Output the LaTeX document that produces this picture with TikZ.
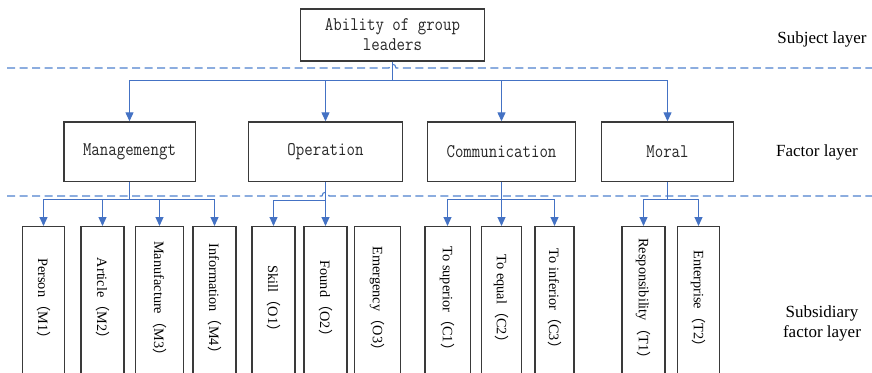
\documentclass[tikz,border=0pt]{standalone}
\usepackage{fontspec}
\setmainfont{Liberation Serif}
\newfontfamily\boxfont[FakeStretch=0.85]{Latin Modern Mono}
\newfontfamily\cjk{Noto Sans CJK SC}
\usetikzlibrary{arrows.meta}
\definecolor{linkblue}{HTML}{4472C4}
\definecolor{dashblue}{HTML}{4F81CE}
\definecolor{frame}{HTML}{3A3A3A}
% full-width parentheses around the item codes
\newcommand{\lpar}{{\cjk （}}
\newcommand{\rpar}{{\cjk ）}}

\begin{document}
\begin{tikzpicture}[x=1pt,y=-1pt,
  box/.style={draw=frame,line width=1.3pt,rectangle,inner sep=0pt,
    font=\boxfont\fontsize{19.3}{20}\selectfont,text=black!85},
  subbox/.style={draw=frame,line width=1.3pt,rectangle,inner sep=0pt,
    minimum height=200pt,anchor=north},
  sublabel/.style={rotate=-90,font=\fontsize{14.3}{16}\selectfont,inner sep=0pt},
  layerlabel/.style={font=\fontsize{17}{19.5}\selectfont,align=center,inner sep=0pt},
  link/.style={draw=linkblue,line width=1.2pt,-{Triangle[width=8pt,length=9pt]}},
  divider/.style={draw=dashblue,line width=1.1pt,dash pattern=on 8pt off 4.5pt}
]
\useasboundingbox (0,0) rectangle (872,372);
\clip (0,0) rectangle (872,372);

% layer dividers, each hopping over the crossing stem
\draw[divider] (7,68) -- (389,68) .. controls (389,63) and (396,63) .. (396,68) -- (872,68);
\draw[divider] (7,196) -- (322,196) .. controls (322,191) and (329,191) .. (329,196) -- (872,196);

% subject
\node[box,minimum width=184pt,minimum height=52pt,align=center] (top) at (392.5,35) {Ability of group\\leaders};

% factors
\node[box,minimum width=131.3pt,minimum height=59.3pt] (mgt) at (129.5,151.6) {Managemengt};
\node[box,minimum width=153.4pt,minimum height=59.3pt] (opr) at (325.5,151.6) {Operation};
\node[box,minimum width=148.6pt,minimum height=59.3pt] (com) at (501.5,151.6) {Communication};
\node[box,minimum width=131.6pt,minimum height=59.3pt] (mor) at (667.5,151.6) {Moral};

% subsidiary factors
\node[subbox,minimum width=42pt]   (m1) at (43.5,226) {};
\node[subbox,minimum width=43pt]   (m2) at (102.5,226) {};
\node[subbox,minimum width=48pt]   (m3) at (159.5,226) {};
\node[subbox,minimum width=43pt]   (m4) at (214.5,226) {};
\node[subbox,minimum width=43pt]   (o1) at (273.5,226) {};
\node[subbox,minimum width=43pt]   (o2) at (325.5,226) {};
\node[subbox,minimum width=46.4pt] (o3) at (377.5,226) {};
\node[subbox,minimum width=45.3pt] (c1) at (447.5,226) {};
\node[subbox,minimum width=40.4pt] (c2) at (501.5,226) {};
\node[subbox,minimum width=39pt]   (c3) at (554.5,226) {};
\node[subbox,minimum width=43pt]   (t1) at (643.5,226) {};
\node[subbox,minimum width=41.7pt] (t2) at (698.5,226) {};

\node[sublabel] (m1t) at (43.5,302)  {Person\lpar M1\rpar};
\node[sublabel] (m2t) at (102.5,302) {Article\lpar M2\rpar};
\node[sublabel] (m3t) at (159.5,302) {Manufacture\lpar M3\rpar};
\node[sublabel] (m4t) at (214.5,302) {Information\lpar M4\rpar};
\node[sublabel] (o1t) at (273.5,302) {Skill\lpar O1\rpar};
\node[sublabel] (o2t) at (325.5,302) {Found\lpar O2\rpar};
\node[sublabel] (o3t) at (377.5,302) {Emergency\lpar O3\rpar};
\node[sublabel] (c1t) at (447.5,302) {To superior\lpar C1\rpar};
\node[sublabel] (c2t) at (501.5,302) {To equal\lpar C2\rpar};
\node[sublabel] (c3t) at (554.5,302) {To inferior\lpar C3\rpar};
\node[sublabel] (t1t) at (643.5,302) {Responsibility\lpar T1\rpar};
\node[sublabel] (t2t) at (698.5,302) {Enterprise\lpar T2\rpar};

% layer names
\node[layerlabel] (subj) at (822,39)    {Subject layer};
\node[layerlabel] (fact) at (817,152)   {Factor layer};
\node[layerlabel] (subs) at (822,323.5) {Subsidiary\\factor layer};

% subject -> factors
\coordinate (topbus) at (392.5,80.5);
\foreach \f in {mgt,opr,com,mor}
  \draw[link] (top.south) -- (topbus) -| (\f.north);

% factors -> subsidiary factors
\coordinate (mbus) at (129.5,199.5);
\foreach \s in {m1,m2,m3,m4}
  \draw[link] (mgt.south) -- (mbus) -| (\s.north);

\coordinate (obus) at (325.5,200.5);
\draw[link] (opr.south) -- (obus) -| (o1.north);
\draw[link] (opr.south) -- (o2.north);

\coordinate (cbus) at (501.5,199.5);
\foreach \s in {c1,c2,c3}
  \draw[link] (com.south) -- (cbus) -| (\s.north);

\coordinate (tbus) at (667.5,199.5);
\foreach \s in {t1,t2}
  \draw[link] (mor.south) -- (tbus) -| (\s.north);
\end{tikzpicture}
\end{document}
